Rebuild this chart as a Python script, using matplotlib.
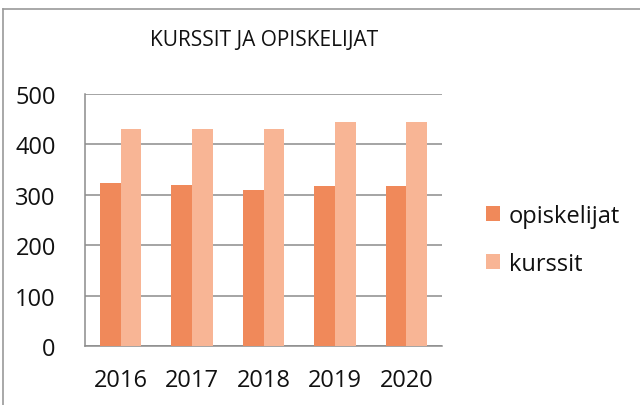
import matplotlib.pyplot as plt
import numpy as np
from matplotlib.lines import Line2D

plt.rcParams['font.family'] = ['Open Sans', 'DejaVu Sans']

# vuodet ja arvot
years = ['2016', '2017', '2018', '2019', '2020']
opiskelijat = [323, 319, 309, 317, 317]
kurssit = [431, 431, 431, 444, 444]

fig = plt.figure(figsize=(6.4, 4.06), dpi=100)
ax = fig.add_axes([85 / 640, 59 / 406, 357 / 640, 252 / 406])

x = np.arange(len(years))
w = 0.29
ax.bar(x - w / 2, opiskelijat, w, color='#f0895a', label='opiskelijat', zorder=3)
ax.bar(x + w / 2, kurssit, w, color='#f8b595', label='kurssit', zorder=3)

ax.set_xlim(-0.5, 4.5)
ax.set_ylim(0, 500)
ax.set_yticks(range(0, 501, 100))
ax.set_xticks(x)
ax.set_xticklabels(years)
ax.grid(axis='y', color='#8c8c8c', linewidth=1.1, zorder=0)
ax.tick_params(length=0, labelsize=17, colors='#111111', pad=21)
ax.tick_params(axis='x', pad=16, labelsize=17)
for s in ['top', 'right']:
    ax.spines[s].set_visible(False)
for s in ['left', 'bottom']:
    ax.spines[s].set_color('#8c8c8c')
    ax.spines[s].set_linewidth(1.1)

fig.text(264 / 640, 1 - 40 / 406, 'KURSSIT JA OPISKELIJAT', ha='center', va='center',
         fontsize=15, color='#111111')

ax.legend(loc='center left', bbox_to_anchor=(465 / 640, 1 - 241 / 406),
          bbox_transform=fig.transFigure, frameon=False, fontsize=17,
          handlelength=0.6, handleheight=0.6, handletextpad=0.35, labelspacing=1.0,
          labelcolor='#111111')

# kuvan reunaviivat
fig.add_artist(Line2D([3 / 640, 1], [1 - 10 / 406, 1 - 10 / 406], color='#9a9a9a', lw=1.2))
fig.add_artist(Line2D([3 / 640, 3 / 640], [0, 1 - 10 / 406], color='#9a9a9a', lw=1.2))

plt.savefig('out.png', dpi=100)
